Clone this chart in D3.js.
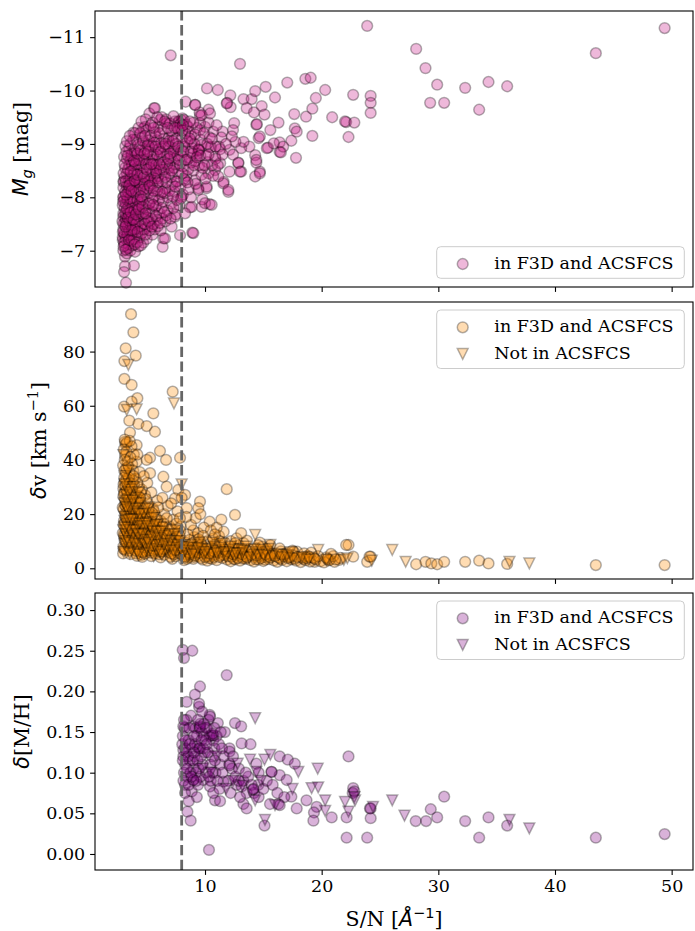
<!DOCTYPE html>
<html><head><meta charset="utf-8">
<script src="https://cdn.jsdelivr.net/npm/d3@7"></script>
<style>body{margin:0;background:#fff;} svg{display:block}</style>
</head><body><svg id="chart" width="695" height="931"></svg>
<script>
// ---------------- data ----------------
const snTicks = [10, 20, 30, 40, 50];
const mgTicks = [-11, -10, -9, -8, -7];
const dvTicks = [0, 20, 40, 60, 80];
const mhTicks = [0, 0.05, 0.10, 0.15, 0.20, 0.25, 0.30];
const snCut = 8;
const legendLabels = ["in F3D and ACSFCS", "Not in ACSFCS"];

// top panel: [S/N, M_g]
const mgPoints = [
[23.9,-11.21],[49.4,-11.17],[28.1,-10.78],[43.5,-10.70],[28.9,-10.42],[29.9,-10.11],[32.3,-10.05],[34.3,-10.16],[35.9,-10.08],[29.3,-9.77],[30.5,-9.77],[33.5,-9.64],[22.7,-9.92],[24.2,-9.90],[24.2,-9.77],[24.2,-9.58],[22.1,-9.41],[22.0,-9.42],[22.8,-9.40],[22.3,-9.13],
[7.06,-10.66],[13.0,-10.50],[10.17,-10.04],[11.1,-10.01],[12.17,-9.91],[11.9,-9.77],[12.2,-9.69],[13.3,-9.84],[14.0,-9.84],[14.3,-9.99],[15.2,-10.07],[17.05,-10.15],[18.6,-10.22],[19.06,-10.24],[16.0,-9.87],[14.86,-9.71],[15.1,-9.55],[13.57,-9.67],[14.2,-9.59],[17.65,-9.56],[18.66,-9.51],[19.2,-9.66],[19.5,-9.86],[20.3,-10.01],[20.9,-9.50],[19.2,-9.15],[17.8,-8.74],[14.4,-9.36],[14.45,-9.37],[15.6,-9.26],[16.3,-9.40],[17.7,-9.29],[17.4,-9.06],[16.4,-9.03],[16.4,-8.85],[15.4,-8.93],[14.6,-9.11],[12.5,-9.39],[12.4,-9.26],[11.5,-9.23],[10.3,-9.64],[9.57,-9.53],[8.34,-9.79],[9.17,-9.73],[14.3,-8.79],[14.4,-8.65],[14.7,-8.48],[14.3,-8.39],[13.1,-8.48],[12.1,-8.48],[11.6,-8.29],[13.8,-8.95],[12.86,-8.64],[13.1,-8.92],[12.1,-8.89],[13.3,-9.04],[12.6,-9.04],[11.4,-9.12],[10.7,-9.23],[10.0,-9.32],[9.57,-9.26],[10.3,-9.40],[12.3,-9.14],[11.2,-8.95],
[9.54,-9.59],[5.63,-9.67],[5.23,-9.57],[4.92,-9.46],[3.86,-9.21],[3.17,-8.96],[3.06,-8.76],[6.66,-9.46],[7.43,-9.42],[8.0,-9.44],[7.9,-9.38],[6.0,-9.32],[4.71,-9.29],[4.94,-9.01],[5.86,-9.07],[6.86,-9.11],[7.29,-8.89],[5.57,-8.79],[4.43,-8.79],[3.71,-8.82],[3.71,-8.64],[5.29,-8.32],[5.3,-8.33],[3.0,-8.29],[3.05,-8.3],
[3.06,-7.95],[3.0,-7.64],[3.06,-7.33],[2.95,-7.2],[3.14,-6.89],[3.14,-6.71],[3.91,-6.72],[3.06,-6.60],[3.23,-6.40],[6.43,-7.23],[6.37,-7.07],[7.14,-7.45],[7.86,-7.29],[8.91,-7.34],[8.71,-7.81],[9.71,-7.82],[10.4,-7.87],[9.77,-7.96],[9.43,-8.17],[10.14,-8.17],[11.57,-8.26],[12.0,-8.10],[12.86,-8.65],[13.0,-8.48],[14.4,-8.70],[14.7,-8.45],[15.3,-8.92],[14.7,-9.14],[15.9,-9.01],[16.7,-8.95],[16.5,-8.84],[17.86,-9.23],
[11.86,-9.76],[9.14,-9.73],[5.71,-9.67],[4.86,-9.32],[4.0,-9.2],[6.14,-9.45],[6.71,-9.39],[7.71,-9.42],[7.75,-9.41],[8.06,-9.48],[9.57,-9.39],[10.43,-9.57],[9.71,-9.54],[8.86,-9.04],[9.43,-8.89],[9.45,-8.9],[10.3,-8.95],[10.86,-8.76],[11.3,-8.64],[12.0,-8.14],[10.14,-8.2],[10.0,-7.89],[10.57,-7.86],[8.86,-7.82],[9.0,-7.33],[6.57,-7.23],[7.43,-7.64],[8.29,-7.70],[8.0,-8.01],[8.29,-8.32],[9.14,-8.32],[9.43,-8.14],[10.29,-8.45],[10.86,-8.51],[11.14,-8.39],
[3.0,-7.0],[3.3,-6.95],[3.6,-7.0],[4.0,-6.98],[3.1,-7.1],[3.45,-7.12],[3.8,-7.1],[4.3,-7.08],[4.7,-7.15],
[2.95,-7.25],[3.2,-7.22],[3.5,-7.28],[3.75,-7.2],[4.05,-7.3],[4.4,-7.25],[5.0,-7.22],[5.5,-7.3],
[3.0,-7.4],[3.3,-7.38],[3.6,-7.45],[3.9,-7.36],[4.2,-7.42],[4.6,-7.4],[5.1,-7.45],[5.7,-7.4],[6.2,-7.38],
[2.92,-7.55],[3.15,-7.52],[3.4,-7.58],[3.7,-7.5],[4.0,-7.6],[4.35,-7.55],[4.8,-7.6],[5.3,-7.52],[5.9,-7.58],[6.6,-7.55],
[3.0,-7.7],[3.25,-7.68],[3.55,-7.75],[3.85,-7.66],[4.15,-7.74],[4.5,-7.7],[4.95,-7.78],[5.5,-7.72],[6.1,-7.7],[6.8,-7.75],[7.5,-7.68],
[2.95,-7.85],[3.2,-7.88],[3.45,-7.82],[3.75,-7.9],[4.1,-7.84],[4.45,-7.92],[4.85,-7.86],[5.3,-7.9],[5.85,-7.84],[6.4,-7.92],[7.1,-7.88],[7.8,-7.85],
[3.05,-8.02],[3.35,-8.0],[3.65,-8.06],[3.95,-7.98],[4.3,-8.05],[4.7,-8.0],[5.15,-8.08],[5.65,-8.02],[6.2,-8.06],[6.8,-8.0],[7.4,-8.1],[8.1,-8.05],[8.8,-8.0],
[3.0,-8.18],[3.3,-8.2],[3.6,-8.15],[3.9,-8.24],[4.25,-8.18],[4.65,-8.22],[5.05,-8.16],[5.5,-8.25],[6.0,-8.2],[6.6,-8.16],[7.2,-8.24],[7.9,-8.2],[8.6,-8.15],[9.2,-8.25],
[3.1,-8.38],[3.45,-8.35],[3.8,-8.42],[4.15,-8.36],[4.55,-8.44],[5.0,-8.38],[5.45,-8.45],[5.95,-8.35],[6.5,-8.42],[7.1,-8.38],[7.7,-8.45],[8.4,-8.4],[9.0,-8.5],[9.7,-8.42],
[3.15,-8.55],[3.5,-8.6],[3.9,-8.52],[4.3,-8.58],[4.75,-8.55],[5.2,-8.62],[5.7,-8.55],[6.25,-8.6],[6.85,-8.54],[7.45,-8.62],[8.1,-8.58],[8.8,-8.65],[9.5,-8.6],[10.2,-8.66],
[3.3,-8.72],[3.7,-8.78],[4.1,-8.7],[4.55,-8.76],[5.05,-8.72],[5.55,-8.8],[6.1,-8.74],[6.7,-8.8],[7.35,-8.72],[8.0,-8.78],[8.7,-8.74],[9.4,-8.82],[10.1,-8.78],[10.9,-8.72],
[3.5,-8.92],[3.95,-8.88],[4.4,-8.95],[4.9,-8.9],[5.45,-8.96],[6.05,-8.9],[6.7,-8.96],[7.4,-8.92],[8.1,-8.98],[8.9,-8.92],[9.7,-8.98],[10.5,-8.94],[11.3,-8.9],
[4.1,-9.08],[4.6,-9.12],[5.2,-9.06],[5.8,-9.14],[6.5,-9.1],[7.2,-9.16],[8.0,-9.1],[8.8,-9.15],[9.6,-9.08],[10.4,-9.12],
[5.0,-9.26],[5.7,-9.22],[6.4,-9.28],[7.1,-9.25],[7.9,-9.3],[8.6,-9.24],[9.3,-9.3],
[5.5,-9.4],[6.3,-9.5],[7.0,-9.38],[8.4,-9.36],
[3.1,-7.3],[3.4,-7.45],[3.7,-7.3],[3.2,-7.6],[3.5,-7.65],[3.8,-7.8],[3.1,-7.8],[3.35,-7.95],[3.6,-7.9],[4.0,-7.5],[4.3,-7.65],[3.15,-8.1],[3.5,-8.15],[3.85,-8.3],[4.2,-8.5],[4.6,-8.3],[3.3,-8.45],[3.6,-8.7],[4.0,-8.85],[4.5,-8.6],[5.0,-8.8],[5.5,-8.7],[6.0,-8.9],[4.9,-8.1],[5.3,-8.4],[5.8,-8.6],[3.0,-7.5],[2.98,-8.0],[3.02,-8.45],[3.25,-8.85],[4.4,-7.9],[4.8,-7.4],[5.2,-7.75],[6.0,-8.4],[6.5,-8.75],[7.0,-8.6],
[3.05,-7.15],[3.35,-7.3],[3.25,-7.5],[3.55,-7.55],[3.15,-7.7],[3.45,-7.7],[3.7,-7.62],[3.3,-7.78],[3.6,-7.98],[3.95,-7.75],[4.2,-7.95],[3.4,-8.1],[3.75,-8.2],[4.05,-8.12],[4.4,-8.28],[3.2,-8.3],[3.6,-8.35],[3.95,-8.45],[4.7,-8.7],[5.2,-8.95],[5.9,-8.8],[6.4,-8.95],
[3.42,-7.05],[3.68,-7.18],[3.92,-7.22],[4.18,-7.16],[4.55,-7.32],[4.9,-7.3],[5.25,-7.38],[5.6,-7.5],[5.95,-7.46],[6.35,-7.6],[6.7,-7.66],[7.05,-7.6],[7.3,-7.8],[7.6,-7.95],[7.95,-7.98],
[3.52,-7.38],[3.82,-7.48],[4.12,-7.52],[4.48,-7.46],[4.72,-7.68],[5.05,-7.62],[5.4,-7.6],[5.75,-7.82],[6.05,-7.95],[6.3,-7.8],[6.55,-8.08],[6.95,-8.12],[7.25,-8.02],[7.65,-8.3],[8.2,-8.35],[8.5,-8.28],
[3.58,-8.25],[3.88,-8.1],[4.12,-8.28],[4.42,-8.15],[4.8,-8.25],[5.12,-8.3],[5.35,-8.18],[5.7,-8.35],[5.9,-8.12],[6.3,-8.3],[6.7,-8.28],[6.95,-8.45],[7.35,-8.55],[7.55,-8.3],[7.85,-8.6],[8.3,-8.7],[8.55,-8.52],[8.95,-8.82],[9.2,-8.68],
[3.4,-8.52],[3.75,-8.6],[4.05,-8.62],[4.35,-8.7],[4.65,-8.45],[4.95,-8.62],[5.25,-8.55],[5.6,-8.62],[5.85,-8.45],[6.15,-8.52],[6.4,-8.65],[6.75,-8.62],[7.05,-8.75],[7.3,-8.85],[7.65,-8.78],[7.95,-8.88],[8.25,-8.95],[8.5,-9.05],[8.8,-8.85],[9.1,-9.0],[9.5,-8.88],
[3.6,-9.0],[3.85,-9.08],[4.25,-8.98],[4.7,-9.05],[5.1,-8.98],[5.35,-9.15],[5.65,-9.02],[6.25,-9.02],[6.9,-9.05],[7.55,-9.1],[7.75,-9.25],[8.3,-9.2],[8.55,-9.32],[9.0,-9.4],[9.15,-9.18],
[4.3,-9.3],[4.55,-9.42],[5.35,-9.35],[5.9,-9.5],[6.55,-9.42],[7.3,-9.52],[7.6,-9.3],[8.2,-9.45],[8.7,-9.42],
[3.95,-7.4],[4.25,-7.82],[4.6,-7.95],[4.75,-8.15],[5.5,-7.98],[5.95,-8.28],[6.45,-8.52],[6.9,-8.95],[7.5,-9.0],[8.05,-9.25],
[9.8,-8.55],[10.05,-8.35],[10.6,-8.6],[10.9,-8.95],[11.5,-8.8],[11.8,-9.0],[12.4,-8.8],[10.2,-9.0],[9.9,-9.2],[11.0,-9.35],[10.6,-9.1],
[3.02,-7.08],[3.22,-7.02],[3.48,-7.2],[3.72,-7.38],[3.98,-7.12],[4.22,-7.35],[4.5,-7.1],[4.85,-7.5],[5.15,-7.55],[5.45,-7.45],
[2.96,-7.35],[3.18,-7.45],[3.38,-7.62],[3.62,-7.72],[3.88,-7.58],[4.08,-7.68],[4.32,-7.78],[4.62,-7.82],[4.9,-7.7],[5.2,-7.88],[5.55,-7.86],[5.8,-7.65],[6.15,-7.52],[6.5,-7.72],
[2.98,-7.92],[3.22,-8.05],[3.48,-8.22],[3.7,-8.12],[3.98,-8.32],[4.22,-8.42],[4.5,-8.02],[4.75,-8.38],[5.0,-8.52],[5.25,-8.22],[5.6,-8.12],[5.8,-8.5],[6.1,-8.62],[6.35,-8.1],[6.6,-8.38],[6.85,-8.72],[7.15,-8.5],[7.45,-8.2],[7.75,-8.7],[8.05,-8.45],
[3.1,-8.62],[3.38,-8.78],[3.62,-8.48],[3.92,-8.68],[4.2,-8.82],[4.48,-8.88],[4.8,-8.82],[5.12,-8.85],[5.4,-8.62],[5.75,-8.95],[6.2,-8.85],[6.6,-9.0],[7.0,-8.82],[7.25,-9.05],[7.7,-8.95],[8.15,-8.85],[8.45,-8.7],[8.7,-9.1],[9.05,-8.6],[9.3,-8.75],[9.6,-8.78],[9.95,-8.6],[10.3,-8.8],[10.7,-8.4],[11.1,-8.6],
[3.3,-9.05],[3.55,-9.15],[4.45,-9.2],[4.85,-9.15],[5.6,-9.3],[6.1,-9.2],[6.8,-9.3],[7.4,-9.3],[8.1,-9.35]
];

// middle panel: [S/N, delta v]
const dvCircles = [
[3.66,93.8],[3.86,87.1],[3.2,81.2],[4.06,78.5],[3.09,76.5],[3.09,69.9],[3.71,67.7],[4.2,62.8],[3.71,61.5],[3.06,59.7],[7.23,65.2],[5.57,57.2],[3.51,54.5],[4.29,53.3],[5.0,52.5],[5.71,50.4],[3.57,50.1],[6.14,43.3],[5.29,40.8],[6.66,40.0],[7.86,40.8],[3.14,46.7],[3.2,45.8],[4.14,45.5],[4.14,39.4],[5.0,40.0],[5.29,35.1],[6.43,33.8],[6.71,30.1],[7.71,28.9],[3.0,29.5],[8.29,27.1],[7.43,25.8],[8.43,22.2],[9.57,24.6],[9.43,22.2],[11.86,29.2],[12.57,19.7],[10.4,17.2],[8.0,26.0],[22.3,8.6],[22.7,4.3],[23.9,2.4],[24.2,4.3],[28.1,1.5],[28.9,2.4],[29.4,1.8],[29.9,1.5],[30.5,2.4],[32.3,2.4],[33.5,2.8],[34.3,1.8],[35.9,1.6],[43.5,1.2],[49.4,1.2],[24.1,4.3],[19.4,2.4],[18.7,4.3],[17.9,6.1],[17.6,6.1],[20.7,3.1],[22.1,8.6],
[3.0,8],[3.1,10.5],[2.95,13],[3.2,15],[3.05,17.5],[3.15,20],[2.95,22.5],[3.25,24],[3.0,26.5],[3.1,32],[3.2,35],[2.98,38],[3.15,41.5],[3.05,44],[3.3,46.5],[3.2,12],[3.3,18],[3.1,28],
[3.5,6.5],[3.7,8.5],[3.45,10],[3.8,11.5],[3.55,13.5],[3.75,15.5],[3.45,17],[3.85,19],[3.6,21],[3.4,23],[3.7,25],[3.9,27.5],[3.5,30],[3.8,32.5],[3.6,35],[3.45,37.5],[3.9,42],[3.7,45],[3.55,47],[3.85,36],
[4.1,5.5],[4.3,7],[4.05,9],[4.4,10.5],[4.2,12.5],[4.45,14.5],[4.1,16.5],[4.35,18.5],[4.0,20.5],[4.25,22.5],[4.45,25],[4.15,27],[4.35,30],[4.05,33],[4.4,35.5],[4.2,42],
[4.6,5],[4.9,6.5],[5.1,8],[4.7,9.5],[5.0,11],[4.8,13],[5.15,15],[4.65,17],[4.95,19],[4.7,21.5],[5.1,24],[4.85,27],[4.6,29],[5.05,31.5],[4.75,34],
[5.4,4.5],[5.7,5.5],[5.9,7],[5.5,8.5],[5.8,10],[5.35,11.5],[5.65,13],[5.95,15],[5.45,17],[5.75,19.5],[5.55,22],[5.9,25],[5.4,28],
[6.2,4],[6.5,5],[6.85,6],[6.1,7],[6.4,8.5],[6.75,10],[6.3,11.5],[6.6,13.5],[6.95,15.5],[6.2,17.5],[6.5,20],[6.8,23],[6.35,26],
[7.2,3.5],[7.5,4.5],[7.85,5.5],[7.1,6.5],[7.4,8],[7.7,9.5],[7.25,11],[7.6,13],[7.9,15.5],[7.3,18],[7.65,21],[7.1,24],
[8.2,3],[8.6,4],[9.0,3.5],[9.4,4.5],[9.8,3.2],[8.4,5.2],[8.9,6],[9.3,5.5],[9.7,6.5],[8.1,7],[8.5,8],[8.9,7.5],[9.3,8.8],[9.8,8],[8.3,9.5],[8.7,10.5],[9.1,11.5],[9.6,10],[8.5,12.5],[9.0,14],[9.4,13],[8.8,16],[9.2,18.5],[9.9,15],[8.4,19],[9.6,20],
[10.2,2.8],[10.6,3.5],[11.0,3],[11.5,3.8],[11.9,3.2],[10.3,4.5],[10.8,5],[11.3,4.8],[11.8,5.5],[10.1,6],[10.5,6.5],[11.0,7],[11.5,6.3],[11.9,7.5],[10.4,8],[10.9,9],[11.3,8.5],[11.7,9.5],[10.2,10],[10.7,11],[11.2,12],[11.6,13.5],[10.5,14],[11.0,15],[11.4,18],
[12.2,2.6],[12.6,3.3],[13.0,2.8],[13.5,3.5],[13.9,3],[12.3,4.3],[12.8,4.8],[13.2,4.2],[13.7,5],[12.1,5.8],[12.5,6.3],[13.0,6.8],[13.4,6],[13.8,7],[12.4,7.8],[12.9,8.5],[13.3,9.3],[12.2,10],[12.7,11],[13.6,10.2],[13.1,13],
[14.2,2.5],[14.6,3.2],[15.0,2.7],[15.5,3.4],[15.9,2.9],[14.3,4.2],[14.8,4.6],[15.2,4],[15.7,4.8],[14.1,5.6],[14.5,6.2],[15.0,5.8],[15.4,6.6],[15.8,5.5],[14.4,7.4],[14.9,8],[15.3,7.2],[14.7,9.5],[15.6,8.5],
[16.2,2.4],[16.6,3.1],[17.0,2.6],[17.4,3.3],[17.8,2.8],[16.3,4],[16.8,4.5],[17.2,4],[17.6,4.8],[16.1,5.5],[16.5,6.2],[17.0,5.6],[17.5,6.5],[16.4,7.3],
[18.2,2.3],[18.6,3],[19.0,2.5],[19.5,3.2],[19.9,2.6],[18.3,4],[18.8,4.6],[19.3,4],[18.5,5.5],[19.1,5.8],
[20.2,2.2],[20.6,2.9],[21.1,2.4],[21.5,3.1],[20.4,4],[21.0,4.5],[21.6,3.8],[20.8,5.3],
[2.98,5.5],[3.12,6.8],[3.28,9.2],[3.08,11.8],[3.35,13.8],[3.02,16.2],[3.22,19.2],[3.38,21],[3.12,23.4],[3.32,26],[3.02,31],[3.28,33],[3.08,36],[3.35,39.5],[3.25,43],[3.12,47.5],
[3.62,5.2],[3.92,7.2],[3.48,8.2],[3.78,9.8],[3.58,12.2],[3.95,13.2],[3.72,14.5],[3.52,16],[3.88,17.5],[3.68,19.8],[3.95,22],[3.55,24.2],[3.8,26.5],[3.62,28.2],[3.9,31],[3.48,33.5],[3.75,38.5],[3.6,41],
[4.18,4.6],[4.48,6.2],[4.28,8],[4.08,10],[4.38,11.8],[4.15,13.8],[4.42,16],[4.22,17.8],[4.48,20],[4.12,23.5],[4.32,26.5],[4.48,28],[4.2,31.5],
[4.62,4.2],[4.85,5.4],[5.18,6.5],[4.78,7.8],[5.05,9.5],[4.65,11.5],[4.95,12.2],[5.2,14],[4.72,15.5],[5.0,16.5],[4.88,18.5],[5.15,20.5],[4.65,23],[4.95,25.5],
[5.35,5.8],[5.62,7.2],[5.85,8.8],[5.42,10.2],[5.72,12],[5.5,14.8],[5.82,16.5],[5.38,19],[5.62,21],[5.98,22.5],
[6.05,5.2],[6.3,6.2],[6.62,7.5],[6.92,8.8],[6.22,9.8],[6.52,11.8],[6.82,12.5],[6.12,14],[6.45,16.5],[6.72,18.5],
[7.05,4.2],[7.35,5.2],[7.62,6.8],[7.92,8.5],[7.18,9.5],[7.48,10.5],[7.82,12],[7.15,14.5],[7.55,16.5],[7.85,18.5],
[8.15,4.5],[8.45,3.5],[8.75,5.2],[9.05,4.2],[9.35,6.8],[9.65,3.8],[9.95,5.6],[8.25,8],[8.65,6.8],[9.15,7.2],[9.45,10.8],[9.85,12],
[10.35,3.8],[10.75,4.2],[11.15,5.8],[11.55,5],[11.95,4.5],[10.55,7.6],[11.25,10],[10.85,12.5],
[12.45,3.5],[12.85,5.8],[13.25,3.6],[13.65,6.5],[12.6,9.3],[13.5,4.5],
[14.35,3.4],[14.75,5.5],[15.15,3.2],[15.55,5.3],[14.55,8.5],[15.35,4.6],
[16.45,3.6],[16.85,5.2],[17.25,4.4],[17.7,3.5],[18.45,3.5],[18.95,4.2],[19.7,4.5],[20.5,3.5],[21.2,3.3],
[3.03,7.2],[3.18,9.8],[3.05,12.5],[3.28,14.8],[3.12,16.5],[3.25,20.5],[3.02,21.8],[3.22,23],[3.15,25.5],[3.05,27.5],[3.3,29],[3.18,30.5],[3.08,33.5],[3.25,37],[3.12,40],
[3.52,7.5],[3.72,10.5],[3.5,11.2],[3.85,12.8],[3.62,15],[3.78,16.8],[3.52,18.5],[3.9,20.2],[3.72,22.2],[3.48,25.5],[3.85,24],[3.6,26.8],[3.75,29.5],[3.55,31.5],[3.88,34],
[4.05,6.5],[4.32,9.2],[4.18,11.2],[4.42,13.2],[4.08,15.2],[4.3,17.2],[4.12,19],[4.38,21.5],[4.2,24.5],[4.45,26],
[4.68,6],[4.92,8.5],[4.72,10.5],[5.08,12.8],[4.82,14.2],[5.12,16],[4.68,18.5],[4.98,20.5],[5.18,22],
[5.42,6.5],[5.68,8.2],[5.48,11],[5.78,13.8],[5.52,16],[5.88,18],[5.45,20.5],
[6.15,6.2],[6.42,7.2],[6.68,8.8],[6.25,10.6],[6.55,12.8],[6.88,14.2],[6.35,15.5],
[7.12,5.5],[7.42,6.8],[7.72,7.8],[7.28,8.8],[7.58,11.5],[7.88,13.8],
[8.3,4.2],[8.7,5.8],[9.1,4.8],[9.5,5.8],[9.9,6.8],[8.5,7.2],[8.9,9.2],[9.3,7.8],[9.7,8.8],[10.0,4.2],[10.4,5.5],[10.8,6.2],[11.2,4.2],[11.6,7],[12.0,6.2],[12.4,5.2],[12.8,3.8],[13.2,5.2],[13.6,4],[14.0,5],[14.4,4.8],[14.8,3.8],[15.2,5.2],[15.6,4],[16.0,4.6],[16.6,5.2],[17.1,3.8],[17.9,4.2],[18.7,3.8],[19.4,3.6]
];
const dvTriangles = [
[3.43,75.1],[3.29,58.5],[4.14,58.7],[7.34,60.9],[3.0,41.8],[8.0,31.0],[14.3,12.3],[15.6,8.6],[19.7,6.8],[26.05,6.8],[27.2,2.4],[21.9,3.1],[20.4,3.1],[24.3,2.8],[36.1,2.4],[37.8,1.8],[22.2,3.7],
[3.1,9],[3.3,11.5],[3.0,14],[3.25,16.5],[3.1,19],[3.35,21.5],[3.05,24],[3.2,27],[3.3,30],[3.15,34],
[3.6,7.5],[3.8,10],[3.5,12.5],[3.9,14.5],[3.65,16.5],[3.5,19],[3.85,21],[3.7,23.5],[3.95,26],[3.6,29],
[4.2,6],[4.4,8.5],[4.1,11],[4.5,13],[4.25,15.5],[4.45,18],[4.15,20.5],[4.4,24],
[4.8,5.5],[5.0,7.5],[4.7,10],[5.2,12],[4.9,14.5],[5.1,17],[4.75,20],[5.2,22.5],
[5.6,4.5],[5.9,6.5],[5.4,9],[5.8,11],[5.5,13.5],[5.95,16],[5.6,18.5],
[6.3,5],[6.7,6.5],[6.1,8.5],[6.6,10.5],[6.9,12.5],[6.4,15],
[7.2,4.5],[7.6,6],[7.9,7.5],[7.3,9],[7.7,11.5],[7.5,14],
[8.5,4.5],[9.2,5.5],[9.9,4.8],[8.8,8.5],[9.5,9.5],[8.3,6.5],
[10.5,5],[11.2,6],[11.8,4.2],[10.8,8],[11.5,9],
[12.5,4.5],[13.2,5.5],[13.8,4],[12.8,7],[13.5,8],
[14.5,5],[15.2,6],[15.8,4.5],[14.8,6.8],[16.3,5],[17.0,4.8],[17.5,3.7],[18.3,4],[18.9,3.2],
[3.05,6],[3.18,12.5],[3.4,15],[3.1,17.5],[3.3,25],[3.45,28],[3.1,31],[3.4,36],[3.55,5.5],[3.75,12],[3.6,14],[3.9,18],[3.55,22],[3.85,30],[4.3,5],[4.05,14],[4.35,16.5],[4.05,22],[4.3,28],[4.55,10.5],[4.85,9],[5.05,10.5],[4.6,15.5],[4.9,22],[5.3,7],[5.7,8.5],[5.3,15.5],[5.7,16],[6.15,6],[6.5,12],[6.0,11],[6.8,8],[7.05,7.5],[7.4,12.5],[7.8,10],[8.1,5.5],[8.6,7.5],[9.0,6.2],[9.7,7.2],[10.2,7],[10.9,6.5],[11.4,7.5],[12.1,6.8],[12.4,5.5],[13.1,7],[13.9,6],[14.2,7],[15.0,4.8],[15.5,7.2],[16.6,4],[17.3,6],
[3.2,10],[3.4,18],[3.25,22.5],[3.15,15],[3.5,9.5],[3.7,18],[3.8,25],[4.0,9],[4.25,12.5],[4.4,20],[4.65,12.5],[4.95,16.5],[5.15,9.5],[5.45,11.5],[5.85,13.5],[6.2,13.5],[6.5,9],[7.0,10],[7.3,6.5],[7.65,8.5],[8.2,8],[8.9,5],[9.4,7.5],[10.0,6],[10.6,9.5],[11.0,5.5],[11.7,6],[12.2,8],[12.7,5.5],[13.3,6.5]
];

// bottom panel: [S/N, delta [M/H]]
const mhCircles = [
[8.09,0.251],[8.91,0.250],[8.2,0.241],[11.86,0.220],[9.57,0.206],[9.14,0.196],[8.43,0.187],[9.49,0.181],[9.49,0.185],[10.4,0.171],[11.1,0.161],[12.57,0.161],[13.1,0.157],[9.0,0.157],[8.14,0.157],[9.71,0.150],[10.57,0.146],[11.7,0.150],[13.14,0.136],[13.9,0.135],[9.34,0.132],[10.7,0.140],[8.14,0.128],[12.1,0.130],[12.1,0.126],[22.3,0.120],[16.4,0.120],[17.1,0.116],[17.7,0.111],[14.4,0.111],[15.7,0.101],[16.4,0.097],[17.0,0.091],[12.1,0.111],[8.14,0.120],[9.0,0.105],[9.0,0.091],[9.86,0.091],[10.43,0.083],[8.29,0.085],[8.86,0.077],[8.29,0.075],[11.57,0.089],[12.7,0.085],[13.14,0.083],[13.57,0.075],[14.57,0.085],[10.86,0.066],[11.29,0.065],[13.29,0.0615],[13.57,0.056],[15.57,0.0615],[16.29,0.0615],[15.1,0.035],[8.49,0.052],[8.77,0.041],[10.34,0.005],[17.4,0.0705],[17.86,0.056],[18.7,0.066],[19.57,0.058],[19.34,0.051],[20.86,0.045],[19.29,0.041],[22.14,0.045],[22.7,0.081],[22.66,0.075],[22.8,0.077],[24.14,0.056],[24.2,0.056],[24.2,0.044],[22.14,0.020],[23.9,0.020],[28.06,0.0405],[28.95,0.0405],[29.35,0.055],[29.9,0.045],[30.5,0.0705],[32.3,0.0405],[33.5,0.020],[34.3,0.045],[35.9,0.035],[43.5,0.020],[49.4,0.0245],
[8.05,0.135],[8.1,0.145],[8.3,0.11],[8.2,0.1],[8.4,0.125],[8.6,0.14],[8.7,0.115],[8.5,0.095],[8.9,0.13],[9.1,0.12],[9.3,0.145],[9.5,0.13],[9.2,0.1],[9.4,0.085],[9.6,0.095],[9.8,0.11],[10.0,0.125],[10.2,0.155],[10.4,0.145],[10.6,0.12],[10.8,0.13],[11.0,0.145],[11.2,0.135],[10.1,0.1],[10.5,0.09],[10.9,0.1],[11.3,0.11],[11.6,0.12],[12.3,0.105],[12.6,0.095],[12.9,0.105],[13.3,0.09],[13.7,0.095],[14.0,0.085],[14.2,0.075],[14.6,0.07],[15.0,0.08],[15.3,0.09],[15.8,0.085],[16.2,0.075],[16.8,0.07],[9.2,0.155],[9.6,0.16],[10.3,0.165],[8.8,0.17],[8.4,0.165],[9.9,0.145],[11.5,0.1],[10.7,0.075],[9.3,0.07],[8.6,0.065],[12.0,0.09],
[9.57,0.157],[9.57,0.130],[9.0,0.091],[10.43,0.169],[10.7,0.146],[12.1,0.109],[14.1,0.079],[15.7,0.101],[16.4,0.060],[9.55,0.155],[10.65,0.148],[14.15,0.08],
[8.15,0.09],[8.35,0.14],[8.55,0.12],[8.75,0.1],[8.95,0.115],[9.15,0.135],[9.35,0.115],[9.65,0.12],[9.85,0.13],[10.05,0.14],[10.25,0.125],[10.45,0.11],[10.65,0.1],[10.85,0.115],[11.05,0.09],[11.25,0.08],[11.45,0.13],[8.25,0.155],[8.65,0.155],[9.05,0.145],[9.75,0.175],[10.1,0.155],[10.8,0.155],[11.35,0.15],[12.4,0.12],[12.9,0.09],[13.5,0.1],[14.6,0.1],[13.0,0.07],[12.2,0.075],
[8.1,0.115],[8.3,0.13],[8.45,0.105],[8.6,0.085],[8.85,0.095],[9.05,0.125],[9.25,0.09],[9.45,0.105],[9.7,0.14],[9.9,0.16],[10.15,0.135],[10.35,0.095],[8.2,0.165],[8.7,0.135],[9.4,0.165]
];
const mhTriangles = [
[14.3,0.167],[15.6,0.122],[18.0,0.101],[19.66,0.105],[13.86,0.116],[15.1,0.116],[14.4,0.101],[14.3,0.066],[15.14,0.042],[19.14,0.081],[19.7,0.082],[20.3,0.066],[20.3,0.053],[22.0,0.064],[22.3,0.052],[22.86,0.066],[26.05,0.066],[27.1,0.047],[22.8,0.070],[24.4,0.058],[36.1,0.042],[37.8,0.0315],[12.8,0.111],[13.2,0.084],[12.4,0.09],[11.0,0.12],[10.5,0.1],[9.8,0.105],[11.8,0.08],[16.0,0.06],[17.5,0.08],[14.8,0.09]
];

// ---------------- drawing ----------------
const svg = d3.select("#chart");
const LEFT = 95, RIGHT = 693;
const SERIF = "'DejaVu Serif', serif";
const SANS = "'DejaVu Sans', sans-serif";
const TICKFS = 17.5, LABELFS = 20.5;
const R = 5.4, SW = 1.5;

const x = d3.scaleLinear().domain([0.57, 51.83]).range([LEFT, RIGHT]);
const minus = v => (v < 0 ? "\u2212" + Math.abs(v) : String(v));

const panels = [
  { top: 11, bottom: 287, domain: [-6.32, -11.49], ticks: mgTicks, fmt: minus,
    color: "#C71585", circles: mgPoints, triangles: [], legendPos: "bottom", showX: false },
  { top: 302, bottom: 579, domain: [-3.95, 98.3], ticks: dvTicks, fmt: d => String(d),
    color: "#FF8C00", circles: dvCircles, triangles: dvTriangles, legendPos: "top", showX: false },
  { top: 593, bottom: 870, domain: [-0.0197, 0.321], ticks: mhTicks, fmt: d3.format(".2f"),
    color: "#800080", circles: mhCircles, triangles: mhTriangles, legendPos: "top", showX: true }
];

const triPath = r => `M${-r},${-r}L${r},${-r}L0,${r}Z`;

panels.forEach((p, i) => {
  const y = d3.scaleLinear().domain(p.domain).range([p.bottom, p.top]);
  const g = svg.append("g");

  g.append("g").selectAll("circle").data(p.circles).join("circle")
    .attr("cx", d => x(d[0])).attr("cy", d => y(d[1])).attr("r", R)
    .attr("fill", p.color).attr("fill-opacity", 0.3)
    .attr("stroke", "#000").attr("stroke-opacity", 0.3).attr("stroke-width", SW);
  g.append("g").selectAll("path").data(p.triangles).join("path")
    .attr("d", triPath(R))
    .attr("transform", d => `translate(${x(d[0])},${y(d[1])})`)
    .attr("fill", p.color).attr("fill-opacity", 0.3)
    .attr("stroke", "#000").attr("stroke-opacity", 0.3).attr("stroke-width", SW);

  g.append("line")
    .attr("x1", x(snCut)).attr("x2", x(snCut))
    .attr("y1", p.bottom).attr("y2", p.top)
    .attr("stroke", "#666").attr("stroke-width", 2.8)
    .attr("stroke-dasharray", "10.3,4.5");

  const ya = d3.axisLeft(y).tickValues(p.ticks).tickFormat(p.fmt).tickSize(4.9).tickPadding(4.9);
  const yg = g.append("g").attr("transform", `translate(${LEFT},0)`).call(ya);
  const xa = d3.axisBottom(x).tickValues(snTicks).tickSize(4.9).tickPadding(4.9)
    .tickFormat(p.showX ? (d => String(d)) : (() => ""));
  const xg = g.append("g").attr("transform", `translate(0,${p.bottom})`).call(xa);
  [yg, xg].forEach(a => {
    a.select(".domain").remove();
    a.selectAll(".tick line").attr("stroke", "#000").attr("stroke-width", 1.1);
    a.selectAll(".tick text").attr("font-family", SERIF).attr("font-size", TICKFS).attr("fill", "#000");
  });

  g.append("rect").attr("x", LEFT).attr("y", p.top)
    .attr("width", RIGHT - LEFT).attr("height", p.bottom - p.top)
    .attr("fill", "none").attr("stroke", "#000").attr("stroke-width", 1.1);

  const entries = [{ label: legendLabels[0], shape: "circle" }];
  if (p.triangles.length) entries.push({ label: legendLabels[1], shape: "tri" });
  const lw = 247.6, lh = entries.length === 1 ? 31.6 : 58.5;
  const lx = 436.7;
  const ly = p.legendPos === "bottom" ? 246.7 : p.top + 8;
  const lg = g.append("g");
  lg.append("rect").attr("x", lx).attr("y", ly).attr("width", lw).attr("height", lh)
    .attr("rx", 4).attr("fill", "#fff").attr("fill-opacity", 0.8)
    .attr("stroke", "#cccccc").attr("stroke-width", 1);
  entries.forEach((e, k) => {
    const cy = ly + 17.3 + k * 26.7;
    if (e.shape === "circle") {
      lg.append("circle").attr("cx", 462.7).attr("cy", cy).attr("r", R)
        .attr("fill", p.color).attr("fill-opacity", 0.3)
        .attr("stroke", "#000").attr("stroke-opacity", 0.3).attr("stroke-width", SW);
    } else {
      lg.append("path").attr("d", triPath(R)).attr("transform", `translate(462.7,${cy})`)
        .attr("fill", p.color).attr("fill-opacity", 0.3)
        .attr("stroke", "#000").attr("stroke-opacity", 0.3).attr("stroke-width", SW);
    }
    lg.append("text").attr("x", 494.3).attr("y", cy + 4.8)
      .attr("font-family", SERIF).attr("font-size", TICKFS).attr("fill", "#000")
      .text(e.label);
  });
});

function ylabel(xpos, ycenter, parts) {
  const t = svg.append("text")
    .attr("transform", `translate(${xpos},${ycenter}) rotate(-90)`)
    .attr("text-anchor", "middle").attr("font-size", LABELFS).attr("fill", "#000");
  parts.forEach(pt => {
    const s = t.append("tspan").text(pt.t)
      .attr("font-family", pt.math ? SANS : SERIF)
      .attr("font-style", pt.math ? "italic" : "normal");
    if (pt.fs) s.attr("font-size", pt.fs);
    if (pt.dy) s.attr("dy", pt.dy);
  });
  return t;
}
ylabel(28, 149, [
  { t: "M", math: true },
  { t: "g", math: true, fs: 14.5, dy: 3.5 },
  { t: " [mag]", dy: -3.5 }
]);
ylabel(46, 440.5, [
  { t: "\u03B4", math: true },
  { t: "v [km s" },
  { t: "\u22121", fs: 14.5, dy: -8 },
  { t: "]", dy: 8 }
]);
ylabel(29, 731.5, [
  { t: "\u03B4", math: true },
  { t: "[M/H]" }
]);

const xl = svg.append("text").attr("x", (LEFT + RIGHT) / 2).attr("y", 926)
  .attr("text-anchor", "middle").attr("font-size", LABELFS).attr("fill", "#000");
xl.append("tspan").attr("font-family", SERIF).text("S/N [");
xl.append("tspan").attr("font-family", SANS).attr("font-style", "italic").text("\u00C5");
xl.append("tspan").attr("font-family", SANS).attr("font-size", 14.5).attr("dy", -8).text("\u22121");
xl.append("tspan").attr("font-family", SERIF).attr("dy", 8).text("]");
</script>
</body></html>
